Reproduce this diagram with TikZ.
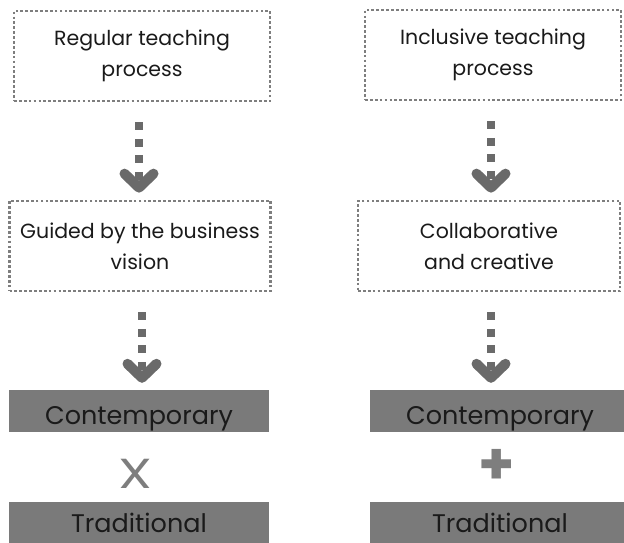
\documentclass[tikz,border=0pt]{standalone}
\usepackage{fontspec}
\setmainfont{Poppins}
\usetikzlibrary{arrows.meta}
\definecolor{dotgray}{HTML}{7E7E7E}
\definecolor{arrowgray}{HTML}{6A6A6A}
\definecolor{bargray}{HTML}{7A7A7A}
\definecolor{inkblack}{HTML}{1A1A1A}
\tikzset{
  stagebox/.style={draw=dotgray, line width=2.7pt, dash pattern=on 2.7pt off 2.2pt,
    minimum height=90pt, align=center, inner sep=0pt, text=inkblack,
    font=\fontsize{20.5}{31}\selectfont},
  bar/.style={fill=bargray, minimum width=260pt, minimum height=42pt, inner sep=0pt,
    text=inkblack, font=\fontsize{25.5}{28}\selectfont},
  topbar/.style={bar, text height=26pt, text depth=0pt},
  flow/.style={draw=arrowgray, line width=8pt, dash pattern=on 8pt off 8.5pt,
    shorten <=20pt, shorten >=7pt,
    -{Straight Barb[round, length=14pt, width=29pt, line width=10pt]}},
  joiner/.style={text=dotgray, inner sep=0pt}
}
\begin{document}
\begin{tikzpicture}[x=1pt, y=-1pt]
\useasboundingbox (0,0) rectangle (624,543);

% left column
\node[stagebox, minimum width=256pt] (reg) at (142,56) {Regular teaching\\process};
\node[stagebox, minimum width=261pt] (biz) at (140,246) {Guided by the business\\vision};
\node[topbar] (conL) at (139,411) {Contemporary};
\node[joiner, font=\fontsize{42}{44}\selectfont\addfontfeature{FakeStretch=1.3}] (times) at (135,474) {X};
\node[bar] (traL) at (139,523) {Traditional};

% right column
\node[stagebox, minimum width=256pt] (inc) at (493,55) {Inclusive teaching\\process};
\node[stagebox, minimum width=262pt] (col) at (489,246) {Collaborative\\and creative};
\node[topbar] (conR) at (500,411) {Contemporary};
\node[joiner, font=\fontsize{58}{60}\selectfont\bfseries] (plus) at (497,467) {+};
\node[bar] (traR) at (500,523) {Traditional};

% flow arrows
\draw[flow] (reg.south -| 139,0) -- (biz.north -| 139,0);
\draw[flow] (biz.south -| 142,0) -- (conL.north -| 142,0);
\draw[flow] (inc.south -| 491,0) -- (col.north -| 491,0);
\draw[flow] (col.south -| 491,0) -- (conR.north -| 491,0);
\end{tikzpicture}
\end{document}
